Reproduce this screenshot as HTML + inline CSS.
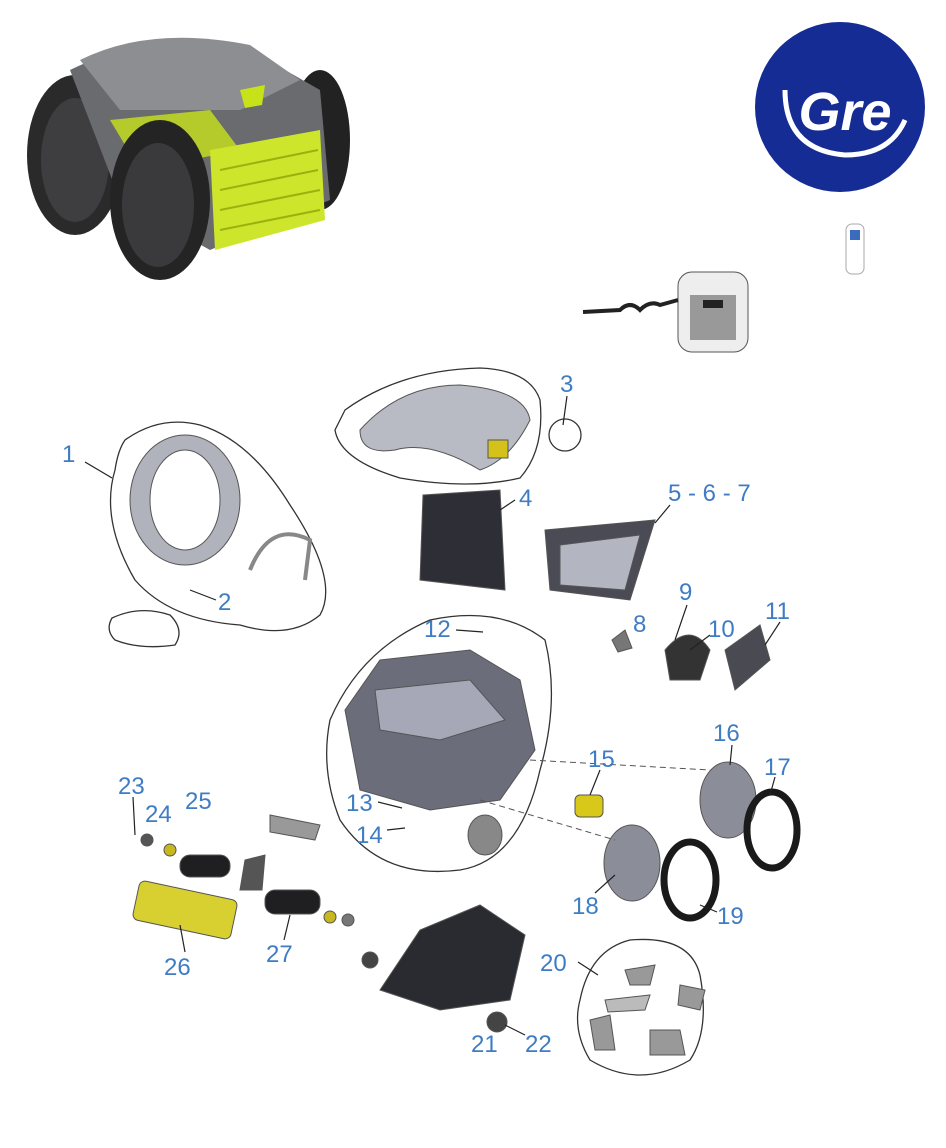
<!DOCTYPE html>
<html><head><meta charset="utf-8"><style>
html,body{margin:0;padding:0;background:#fff;}
svg{display:block;}
text.n{font-family:"Liberation Sans",sans-serif;font-size:24px;fill:#3f7cc4;}
</style></head><body>
<svg width="946" height="1148" viewBox="0 0 946 1148" xmlns="http://www.w3.org/2000/svg">
<rect width="946" height="1148" fill="#fff"/>
<g>
<ellipse cx="75" cy="155" rx="48" ry="80" fill="#2a2a2a"/>
<ellipse cx="75" cy="160" rx="34" ry="62" fill="#3e3e40"/>
<ellipse cx="320" cy="140" rx="30" ry="70" fill="#222"/>
<path d="M70 70 Q150 30 250 50 L320 90 L330 200 L210 250 L120 200 Z" fill="#6a6b6e"/>
<path d="M80 60 Q150 25 250 45 L300 80 L240 110 L120 110 Z" fill="#8d8e92"/>
<path d="M110 120 L210 110 L240 150 L140 170 Z" fill="#c8e21a" opacity=".8"/>
<path d="M210 150 L320 130 L325 220 L215 250 Z" fill="#cde52a"/>
<g stroke="#9cb010" stroke-width="2">
<line x1="220" y1="170" x2="318" y2="150"/><line x1="220" y1="190" x2="318" y2="170"/><line x1="220" y1="210" x2="320" y2="190"/><line x1="220" y1="230" x2="320" y2="210"/></g>
<ellipse cx="160" cy="200" rx="50" ry="80" fill="#242424"/>
<ellipse cx="158" cy="205" rx="36" ry="62" fill="#3a3a3c"/>
<path d="M240 90 L265 85 L262 105 L245 108Z" fill="#c8e21a"/>
</g>
<circle cx="840" cy="107" r="85" fill="#152c95"/>
<text x="845" y="130" text-anchor="middle" font-family="Liberation Sans,sans-serif" font-size="54" font-weight="bold" font-style="italic" fill="#fff">Gre</text>
<path d="M785 90 Q785 150 845 155 Q890 155 905 120" stroke="#fff" stroke-width="5" fill="none"/>
<rect x="846" y="224" width="18" height="50" rx="6" fill="#fff" stroke="#aaa"/>
<rect x="850" y="230" width="10" height="10" fill="#3a6bbf"/>
<rect x="678" y="272" width="70" height="80" rx="14" fill="#eee" stroke="#555"/>
<rect x="690" y="295" width="46" height="45" fill="#999"/>
<rect x="703" y="300" width="20" height="8" fill="#222"/>
<path d="M583 312 L620 310 Q630 300 640 310 Q650 300 660 305 L678 300" stroke="#222" stroke-width="4" fill="none"/>
<g fill="none" stroke="#333" stroke-width="1.3">
<path d="M125 440 Q160 415 200 425 Q250 440 290 505 Q340 580 320 615 Q290 640 240 625 Q170 620 135 580 Q100 520 115 470 Q118 450 125 440Z"/>
<path d="M112 618 Q140 605 170 615 Q185 630 175 645 Q140 650 115 640 Q105 630 112 618Z"/>
<path d="M345 410 Q400 370 480 368 Q530 370 540 400 Q545 450 520 478 Q470 490 400 478 Q340 460 335 430Z"/>
<circle cx="565" cy="435" r="16"/>
<path d="M330 720 Q360 650 430 620 Q500 605 545 640 Q560 700 540 770 Q520 860 460 870 Q380 880 340 820 Q320 770 330 720Z"/>
<path d="M580 1000 Q590 950 630 940 Q690 935 700 975 Q710 1030 690 1060 Q640 1090 590 1060 Q572 1030 580 1000Z"/>
</g>
<g stroke="#555" stroke-width="1">
<ellipse cx="185" cy="500" rx="55" ry="65" fill="#b0b2bc"/>
<ellipse cx="185" cy="500" rx="35" ry="50" fill="#fff"/>
<path d="M250 570 Q270 520 310 540 L305 580" fill="none" stroke="#888" stroke-width="4"/>
<path d="M360 430 Q400 385 460 385 Q525 390 530 420 Q510 460 480 470 Q430 440 395 450 Q360 455 360 430Z" fill="#b8bac4"/>
<rect x="488" y="440" width="20" height="18" fill="#d4c21a"/>
<path d="M423 495 L500 490 L505 590 L420 580 Z" fill="#2e2f36"/>
<path d="M545 530 L655 520 L630 600 L550 590 Z" fill="#4a4b55"/>
<path d="M560 545 L640 535 L625 590 L560 585 Z" fill="#b3b5c0"/>
<path d="M665 650 Q690 620 710 650 L700 680 L670 680Z" fill="#333"/>
<path d="M725 650 L760 625 L770 660 L735 690 Z" fill="#4a4b52"/>
<path d="M612 640 L625 630 L632 648 L618 652Z" fill="#777"/>
<path d="M345 710 L380 660 L470 650 L520 680 L535 750 L500 800 L430 810 L360 790 Z" fill="#6c6d7a"/>
<path d="M375 690 L470 680 L505 720 L440 740 L380 730 Z" fill="#a6a8b8"/>
<rect x="575" y="795" width="28" height="22" rx="5" fill="#d8c81a"/>
<ellipse cx="728" cy="800" rx="28" ry="38" fill="#8b8d98"/>
<ellipse cx="772" cy="830" rx="25" ry="38" fill="none" stroke="#1a1a1a" stroke-width="7"/>
<ellipse cx="632" cy="863" rx="28" ry="38" fill="#8b8d98"/>
<ellipse cx="690" cy="880" rx="26" ry="38" fill="none" stroke="#1a1a1a" stroke-width="7"/>
<ellipse cx="485" cy="835" rx="17" ry="20" fill="#888"/>
<path d="M270 815 L320 825 L315 840 L270 832 Z" fill="#999"/>
<rect x="180" y="855" width="50" height="22" rx="10" fill="#1f1f22"/>
<rect x="265" y="890" width="55" height="24" rx="10" fill="#1f1f22"/>
<path d="M245 860 L265 855 L262 890 L240 890Z" fill="#555"/>
<rect x="135" y="890" width="100" height="40" rx="6" fill="#d8d030" transform="rotate(12 185 910)"/>
<path d="M380 990 L420 930 L480 905 L525 935 L510 1000 L440 1010 Z" fill="#2a2b30"/>
<circle cx="497" cy="1022" r="10" fill="#444"/>
<circle cx="370" cy="960" r="8" fill="#444"/>
<circle cx="170" cy="850" r="6" fill="#c8b820"/>
<circle cx="147" cy="840" r="6" fill="#555"/>
<circle cx="330" cy="917" r="6" fill="#c8b820"/>
<circle cx="348" cy="920" r="6" fill="#777"/>
<path d="M625 970 L655 965 L650 985 L630 985Z" fill="#999"/>
<path d="M605 1000 L650 995 L645 1010 L608 1012Z" fill="#bbb"/>
<path d="M680 985 L705 990 L700 1010 L678 1005Z" fill="#999"/>
<path d="M590 1020 L610 1015 L615 1050 L595 1050Z" fill="#999"/>
<path d="M650 1030 L680 1030 L685 1055 L650 1055Z" fill="#999"/>
</g>
<g stroke="#555" stroke-dasharray="6 4" fill="none">
<line x1="530" y1="760" x2="710" y2="770"/>
<line x1="480" y1="800" x2="615" y2="840"/>
</g>
<g stroke="#222" stroke-width="1.2">
<line x1="85" y1="462" x2="112" y2="478"/>
<line x1="216" y1="600" x2="190" y2="590"/>
<line x1="567" y1="396" x2="563" y2="425"/>
<line x1="515" y1="500" x2="500" y2="510"/>
<line x1="670" y1="505" x2="655" y2="523"/>
<line x1="687" y1="605" x2="675" y2="640"/>
<line x1="710" y1="635" x2="690" y2="650"/>
<line x1="780" y1="622" x2="765" y2="645"/>
<line x1="456" y1="630" x2="483" y2="632"/>
<line x1="378" y1="802" x2="402" y2="808"/>
<line x1="387" y1="830" x2="405" y2="828"/>
<line x1="600" y1="770" x2="590" y2="795"/>
<line x1="732" y1="745" x2="730" y2="765"/>
<line x1="775" y1="777" x2="770" y2="795"/>
<line x1="595" y1="893" x2="615" y2="875"/>
<line x1="717" y1="912" x2="700" y2="905"/>
<line x1="578" y1="962" x2="598" y2="975"/>
<line x1="525" y1="1035" x2="505" y2="1025"/>
<line x1="133" y1="797" x2="135" y2="835"/>
<line x1="284" y1="940" x2="290" y2="915"/>
<line x1="185" y1="952" x2="180" y2="925"/>
</g>
<g>
<text class="n" x="62" y="462">1</text>
<text class="n" x="218" y="610">2</text>
<text class="n" x="560" y="392">3</text>
<text class="n" x="519" y="506">4</text>
<text class="n" x="668" y="501">5 - 6 - 7</text>
<text class="n" x="633" y="632">8</text>
<text class="n" x="679" y="600">9</text>
<text class="n" x="708" y="637">10</text>
<text class="n" x="765" y="619">11</text>
<text class="n" x="424" y="637">12</text>
<text class="n" x="346" y="811">13</text>
<text class="n" x="356" y="843">14</text>
<text class="n" x="588" y="767">15</text>
<text class="n" x="713" y="741">16</text>
<text class="n" x="764" y="775">17</text>
<text class="n" x="572" y="914">18</text>
<text class="n" x="717" y="924">19</text>
<text class="n" x="540" y="971">20</text>
<text class="n" x="471" y="1052">21</text>
<text class="n" x="525" y="1052">22</text>
<text class="n" x="118" y="794">23</text>
<text class="n" x="145" y="822">24</text>
<text class="n" x="185" y="809">25</text>
<text class="n" x="164" y="975">26</text>
<text class="n" x="266" y="962">27</text>
</g>
</svg>
</body></html>
